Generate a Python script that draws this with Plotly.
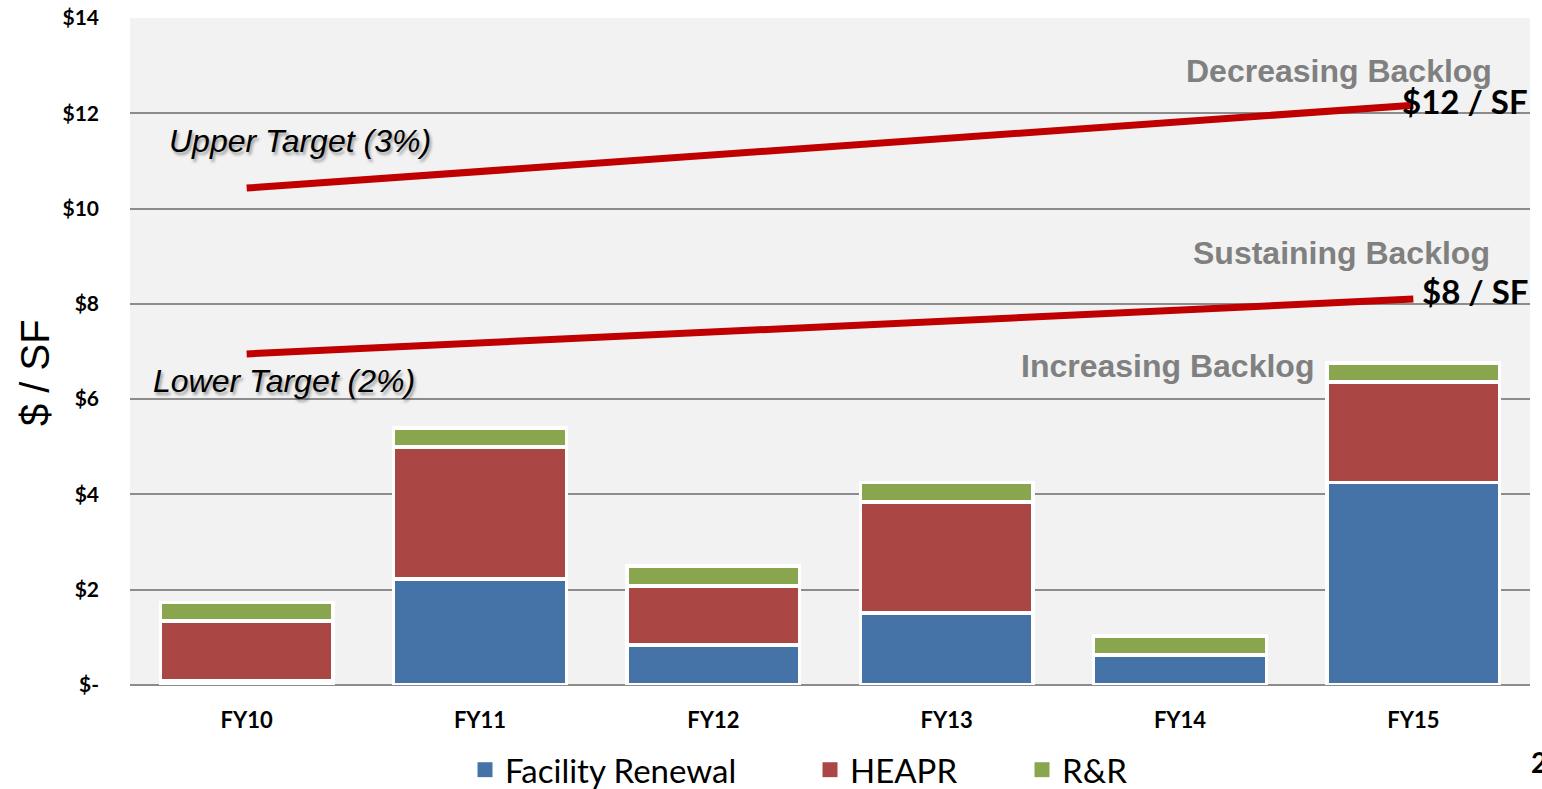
import plotly.graph_objects as go

# Fiscal years on the category axis
years = ["FY10", "FY11", "FY12", "FY13", "FY14", "FY15"]

# Spending per square foot by funding source ($ / SF)
facility_renewal = [0.08, 2.22, 0.84, 1.51, 0.63, 4.25]
heapr = [1.26, 2.78, 1.24, 2.33, 0.0, 2.11]
r_and_r = [0.39, 0.39, 0.42, 0.41, 0.40, 0.40]

# Target reinvestment lines (start FY10, end FY15)
target_years = ["FY10", "FY15"]
upper_target = [10.43, 12.17]
lower_target = [6.95, 8.10]

# Y axis ticks
tick_vals = [0, 2, 4, 6, 8, 10, 12, 14]
tick_text = ["$-", "$2", "$4", "$6", "$8", "$10", "$12", "$14"]

BLUE = "#4572A7"
RED = "#AA4643"
GREEN = "#89A54E"
LINE_RED = "#C00000"
GRAY_TXT = "#808080"

fig = go.Figure()

series = [
    ("Facility Renewal", facility_renewal, BLUE, "legend"),
    ("HEAPR", heapr, RED, "legend2"),
    ("R&R", r_and_r, GREEN, "legend3"),
]
for name, vals, color, leg in series:
    fig.add_trace(go.Bar(
        x=years, y=vals, name=name,
        marker=dict(color=color, line=dict(color="white", width=3.5)),
        showlegend=False,
    ))
    # legend entry with a plain square swatch
    fig.add_trace(go.Scatter(
        x=[None], y=[None], mode="markers", name=name,
        marker=dict(symbol="square", size=15, color=color),
        legend=leg, showlegend=True,
    ))

for vals in (upper_target, lower_target):
    fig.add_trace(go.Scatter(
        x=target_years, y=vals, mode="lines",
        line=dict(color=LINE_RED, width=7),
        showlegend=False, hoverinfo="skip",
    ))

legend_font = dict(family="Lato, Calibri, sans-serif", size=33, color="black")
def legend_at(xp):
    return dict(orientation="h", x=xp, y=-0.127, xanchor="left", yanchor="middle",
                font=legend_font, bgcolor="rgba(0,0,0,0)", itemclick=False,
                itemwidth=30)

fig.update_layout(
    width=1542, height=789,
    margin=dict(l=130, r=12, t=18, b=104, autoexpand=False),
    paper_bgcolor="white",
    plot_bgcolor="#F2F2F2",
    barmode="stack",
    bargap=0.26,
    legend=legend_at((465 - 130) / 1400),
    legend2=legend_at((810 - 130) / 1400),
    legend3=legend_at((1022 - 130) / 1400),
    xaxis=dict(
        type="category",
        tickfont=dict(family="Lato, Calibri, sans-serif", size=22, color="black", weight="bold"),
        showgrid=False, ticks="", ticklabelstandoff=20,
    ),
    yaxis=dict(
        range=[0, 14], tickvals=tick_vals, ticktext=tick_text,
        showgrid=True, gridcolor="#8C8C8C", gridwidth=2,
        zeroline=True, zerolinecolor="#8C8C8C", zerolinewidth=2,
        tickfont=dict(family="Lato, Calibri, sans-serif", size=21, color="black", weight="bold"),
        ticklabelstandoff=30,
    ),
)

def px(x):
    return (x - 130) / 1400

# y axis title, placed a little below the plot's mid-height
fig.add_annotation(text="$ / SF", x=px(35), y=(685 - 373) / 667, xref="paper", yref="paper",
                   xanchor="center", yanchor="middle", textangle=-90, showarrow=False,
                   font=dict(family="Liberation Sans, Arial", size=40, color="black"))

italic_shadow = dict(family="Liberation Sans, Arial", size=32, color="black",
                     style="italic", shadow="2px 3px 3px rgba(0,0,0,0.35)")
band_font = dict(family="Liberation Sans, Arial", size=32, color=GRAY_TXT, weight="bold")
rate_font = dict(family="Lato, Calibri, sans-serif", size=33, color="black", weight="bold")

notes = [
    ("Upper Target (3%)", px(167), 11.42, "left", italic_shadow),
    ("Lower Target (2%)", px(151), 6.38, "left", italic_shadow),
    ("Decreasing Backlog", px(1494), 12.89, "right", band_font),
    ("Sustaining Backlog", px(1492), 9.07, "right", band_font),
    ("Increasing Backlog", px(1316), 6.70, "right", band_font),
    ("$12 / SF", 1.0, 12.26, "right", rate_font),
    ("$8 / SF", 1.0, 8.27, "right", rate_font),
]
for text, xp, yv, anchor, font in notes:
    fig.add_annotation(text=text, x=xp, y=yv, xref="paper", yref="y",
                       xanchor=anchor, yanchor="middle", showarrow=False, font=font)

# slide page number at the lower right corner
fig.add_annotation(text="2", x=1.0, y=-0.115, xref="paper", yref="paper",
                   xanchor="left", yanchor="middle", xshift=-1, showarrow=False,
                   font=dict(family="Lato, Calibri, sans-serif", size=28, color="black", weight="bold"))

fig.write_html("out.html")
